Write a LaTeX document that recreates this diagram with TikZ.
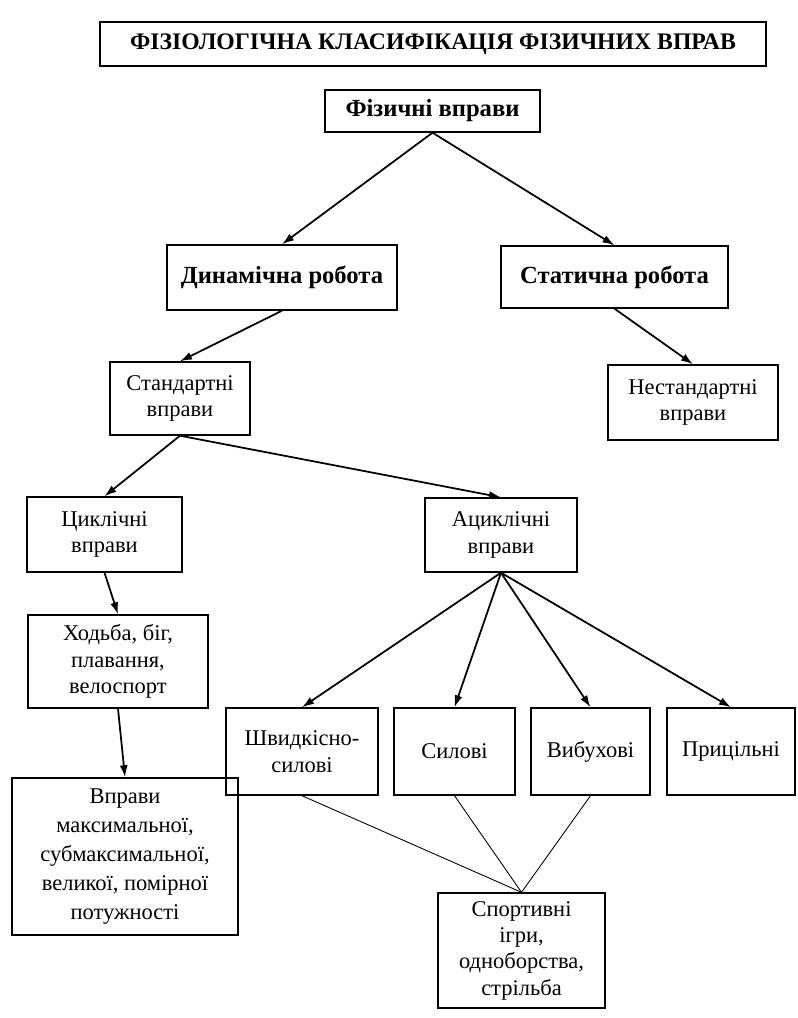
\documentclass[tikz,border=0pt]{standalone}
\usepackage{fontspec}
\setmainfont{Liberation Serif}
\usetikzlibrary{arrows.meta}
\begin{document}
\begin{tikzpicture}[
  block/.style={draw, line width=0.8pt, align=center, inner sep=2pt, font=\fontsize{12.8}{15}\selectfont},
  head/.style={block, font=\fontsize{14}{16}\selectfont\bfseries},
  link/.style={->, line width=1pt},
  >={Latex[length=2.4mm,width=1.6mm]}
]
\useasboundingbox (0,0) rectangle (15.94,-20.36);

\node[head, minimum width=13.32cm, minimum height=0.88cm, font=\fontsize{13.5}{16}\selectfont\bfseries] (title) at (8.66,-0.88) {ФІЗІОЛОГІЧНА КЛАСИФІКАЦІЯ ФІЗИЧНИХ ВПРАВ};
\node[head, minimum width=4.3cm, minimum height=0.84cm] (fiz) at (8.65,-2.22) {Фізичні вправи};

\node[head, minimum width=4.6cm, minimum height=1.3cm] (dyn) at (5.64,-5.55) {Динамічна робота};
\node[head, minimum width=4.54cm, minimum height=1.24cm] (stat) at (12.29,-5.54) {Статична робота};

\node[block, minimum width=2.8cm, minimum height=1.46cm] (std) at (3.6,-7.97) {Стандартні\\вправи};
\node[block, minimum width=3.4cm, minimum height=1.5cm] (nstd) at (13.86,-8.05) {Нестандартні\\вправи};

\node[block, minimum width=3.1cm, minimum height=1.5cm] (cyc) at (2.09,-10.69) {Циклічні\\вправи};
\node[block, minimum width=3.04cm, minimum height=1.48cm] (acyc) at (10.02,-10.70) {Ациклічні\\вправи};

\node[block, minimum width=3.6cm, minimum height=1.86cm] (walk) at (2.36,-13.23) {Ходьба, біг,\\плавання,\\велоспорт};

\node[block, minimum width=3.04cm, minimum height=1.74cm] (speed) at (6.04,-15.03) {Швидкісно-\\силові};
\node[block, minimum width=2.42cm, minimum height=1.74cm] (power) at (9.09,-15.03) {Силові};
\node[block, minimum width=2.38cm, minimum height=1.74cm] (burst) at (11.81,-15.03) {Вибухові};
\node[block, minimum width=2.56cm, minimum height=1.74cm] (aim) at (14.62,-15.03) {Прицільні};

\node[block, minimum width=4.52cm, minimum height=3.14cm, font=\fontsize{12.8}{16.4}\selectfont] (power5) at (2.5,-17.13) {Вправи\\максимальної,\\субмаксимальної,\\великої, помірної\\потужності};
\node[block, minimum width=3.34cm, minimum height=2.3cm] (games) at (10.43,-19.01) {Спортивні\\ігри,\\одноборства,\\стрільба};

\draw[link] (fiz.south) -- (dyn.north);
\draw[link] (fiz.south) -- (stat.north);
\draw[link] (dyn.south) -- (std.north);
\draw[link] (stat.south) -- (nstd.north);
\draw[link] (std.south) -- (cyc.north);
\draw[link] (std.south) -- (acyc.north);
\draw[link] (cyc.south) -- (walk.north);
\draw[link] (walk.south) -- (power5.north);
\draw[link] (acyc.south) -- (speed.north);
\draw[link] (acyc.south) -- (power.north);
\draw[link] (acyc.south) -- (burst.north);
\draw[link] (acyc.south) -- (aim.north);

\draw[line width=0.5pt] (speed.south) -- (games.north);
\draw[line width=0.5pt] (power.south) -- (games.north);
\draw[line width=0.5pt] (burst.south) -- (games.north);
\end{tikzpicture}
\end{document}
